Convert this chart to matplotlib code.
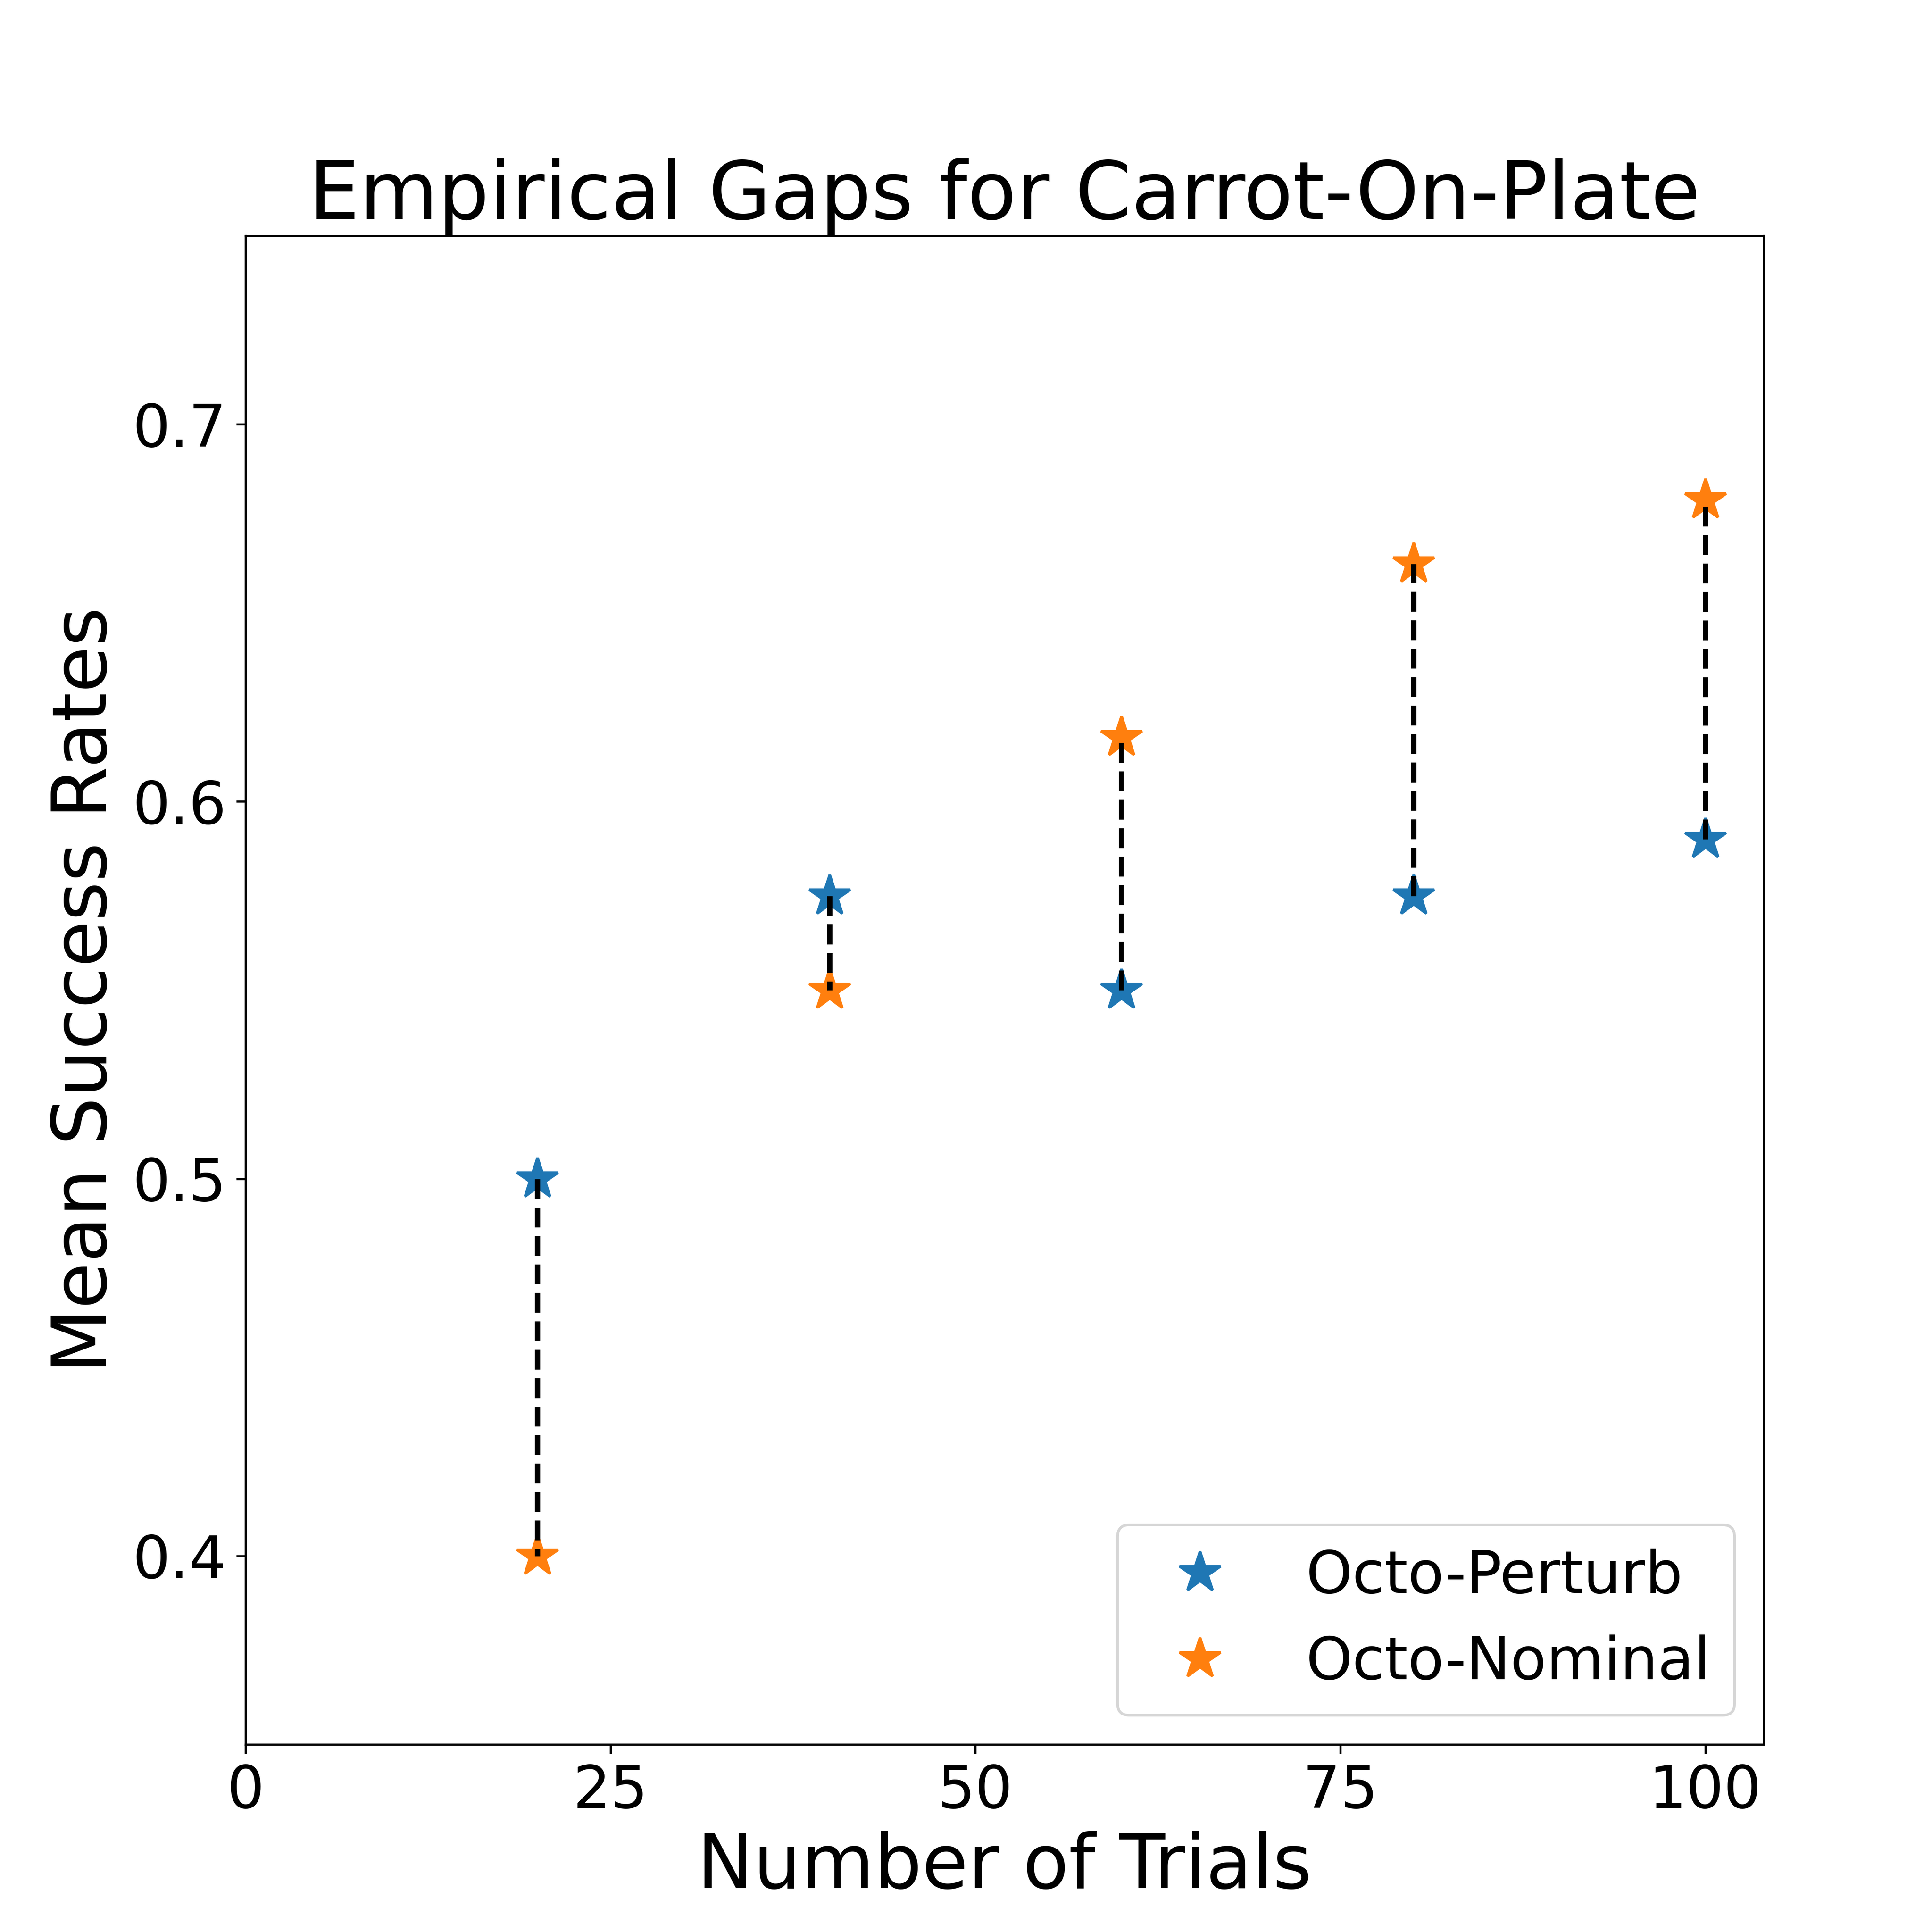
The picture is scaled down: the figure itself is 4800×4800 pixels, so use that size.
import matplotlib
matplotlib.use("Agg")
import matplotlib.pyplot as plt

# Données
essais = [20, 40, 60, 80, 100]
perturb = [0.500, 0.575, 0.550, 0.575, 0.590]
nominal = [0.400, 0.550, 0.617, 0.663, 0.680]

fig, ax = plt.subplots(figsize=(10, 10), dpi=480)
fig.subplots_adjust(left=0.127, right=0.913, top=0.878, bottom=0.097)

# Écart entre les deux politiques
for x, p, n in zip(essais, perturb, nominal):
    ax.plot([x, x], [p, n], linestyle="--", color="black", linewidth=2, zorder=3)

ax.plot(essais, perturb, linestyle="none", marker="*", markersize=16,
        color="#1f77b4", label="Octo-Perturb", zorder=2)
ax.plot(essais, nominal, linestyle="none", marker="*", markersize=16,
        color="#ff7f0e", label="Octo-Nominal", zorder=2)

ax.set_xlim(0, 104)
ax.set_ylim(0.35, 0.75)
ax.set_xticks([0, 25, 50, 75, 100])
ax.set_yticks([0.4, 0.5, 0.6, 0.7])
ax.tick_params(labelsize=22)

ax.set_title("Empirical Gaps for Carrot-On-Plate", fontsize=30)
ax.set_xlabel("Number of Trials", fontsize=28)
ax.set_ylabel("Mean Success Rates", fontsize=28)
ax.legend(loc="lower right", fontsize=22)

fig.savefig("out.png", dpi=480)
